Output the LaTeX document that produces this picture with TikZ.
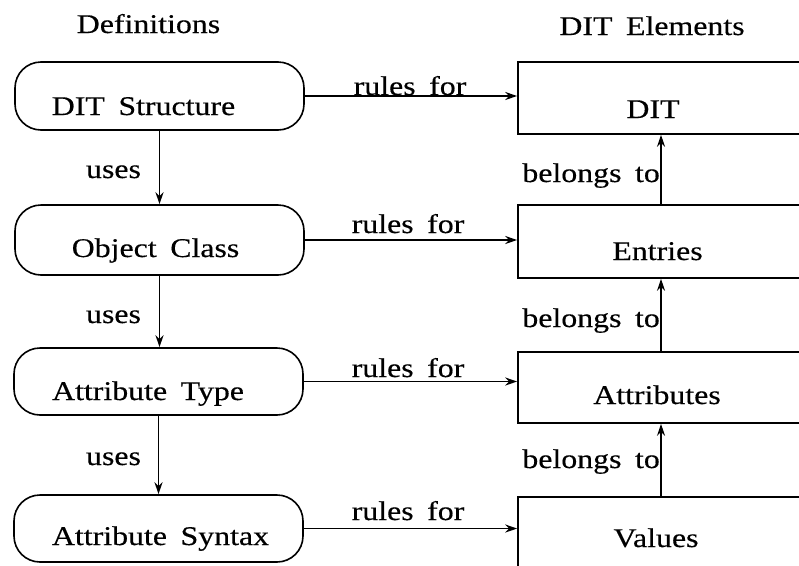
\documentclass[tikz,border=0pt]{standalone}
\usepackage{fontspec}
\setmainfont{Liberation Serif}[FakeStretch=1.18, WordSpace=1.7, FakeBold=0.4]
\usetikzlibrary{arrows.meta}
\begin{document}
\begin{tikzpicture}[x=1pt,y=-1pt,
  txt/.style={font=\fontsize{27pt}{31pt}\selectfont, inner sep=0pt},
  defbox/.style={draw, line width=1.6pt, rounded corners=26pt, minimum width=289pt, inner sep=0pt},
  elbox/.style={draw, line width=1.6pt, minimum width=286pt, inner sep=0pt},
  conn/.style={line width=1.6pt, -{Stealth[length=12pt,width=8pt]}}]
\clip (0,0) rectangle (799,565);
% headers
\node[txt, anchor=base] (hdef) at (148.5,33) {Definitions};
\node[txt, anchor=base] (hdit) at (652,35) {DIT Elements};
% definition boxes
\node[defbox, minimum height=68pt] (ds) at (159.5,96) {};
\node[defbox, minimum height=70pt] (oc) at (159.5,240) {};
\node[defbox, minimum height=67pt] (at) at (158.5,381.5) {};
\node[defbox, minimum height=67pt] (as) at (158.5,528.5) {};
\node[txt, anchor=base] (tds) at (143.5,115) {DIT Structure};
\node[txt, anchor=base] (toc) at (155.5,257) {Object Class};
\node[txt, anchor=base] (tat) at (148,400) {Attribute Type};
\node[txt, anchor=base] (tas) at (160.5,545) {Attribute Syntax};
% element boxes
\node[elbox, minimum height=72pt] (dit) at (661,98) {};
\node[elbox, minimum height=73pt] (ent) at (661,241.5) {};
\node[elbox, minimum height=71pt] (atr) at (661,387.5) {};
\node[elbox, minimum height=72pt] (val) at (661,533) {};
\node[txt, anchor=base] (tdit) at (653,118) {DIT};
\node[txt, anchor=base] (tent) at (657.5,260) {Entries};
\node[txt, anchor=base] (tatr) at (657,404) {Attributes};
\node[txt, anchor=base] (tval) at (656,547) {Values};
% rules for
\draw[conn] (ds.east) -- (ds.east -| dit.west);
\draw[conn] (oc.east) -- (oc.east -| ent.west);
\draw[conn] (at.east) -- (at.east -| atr.west);
\draw[conn] (as.east) -- (as.east -| val.west);
\node[txt, anchor=base] (r1) at (410,95) {rules for};
\node[txt, anchor=base] (r2) at (408,233) {rules for};
\node[txt, anchor=base] (r3) at (408,377) {rules for};
\node[txt, anchor=base] (r4) at (408,520) {rules for};
% uses
\draw[conn] (ds.south) -- (oc.north);
\draw[conn] (oc.south) -- (oc.south |- at.north);
\draw[conn] (at.south) -- (as.north);
\node[txt, anchor=base] (u1) at (113.5,178) {uses};
\node[txt, anchor=base] (u2) at (113.5,323) {uses};
\node[txt, anchor=base] (u3) at (113.5,465) {uses};
% belongs to
\draw[conn] (ent.north) -- (dit.south);
\draw[conn] (atr.north) -- (ent.south);
\draw[conn] (val.north) -- (atr.south);
\node[txt, anchor=base east] (b1) at (660,182) {belongs to};
\node[txt, anchor=base east] (b2) at (660,327) {belongs to};
\node[txt, anchor=base east] (b3) at (660,468) {belongs to};
\end{tikzpicture}
\end{document}
